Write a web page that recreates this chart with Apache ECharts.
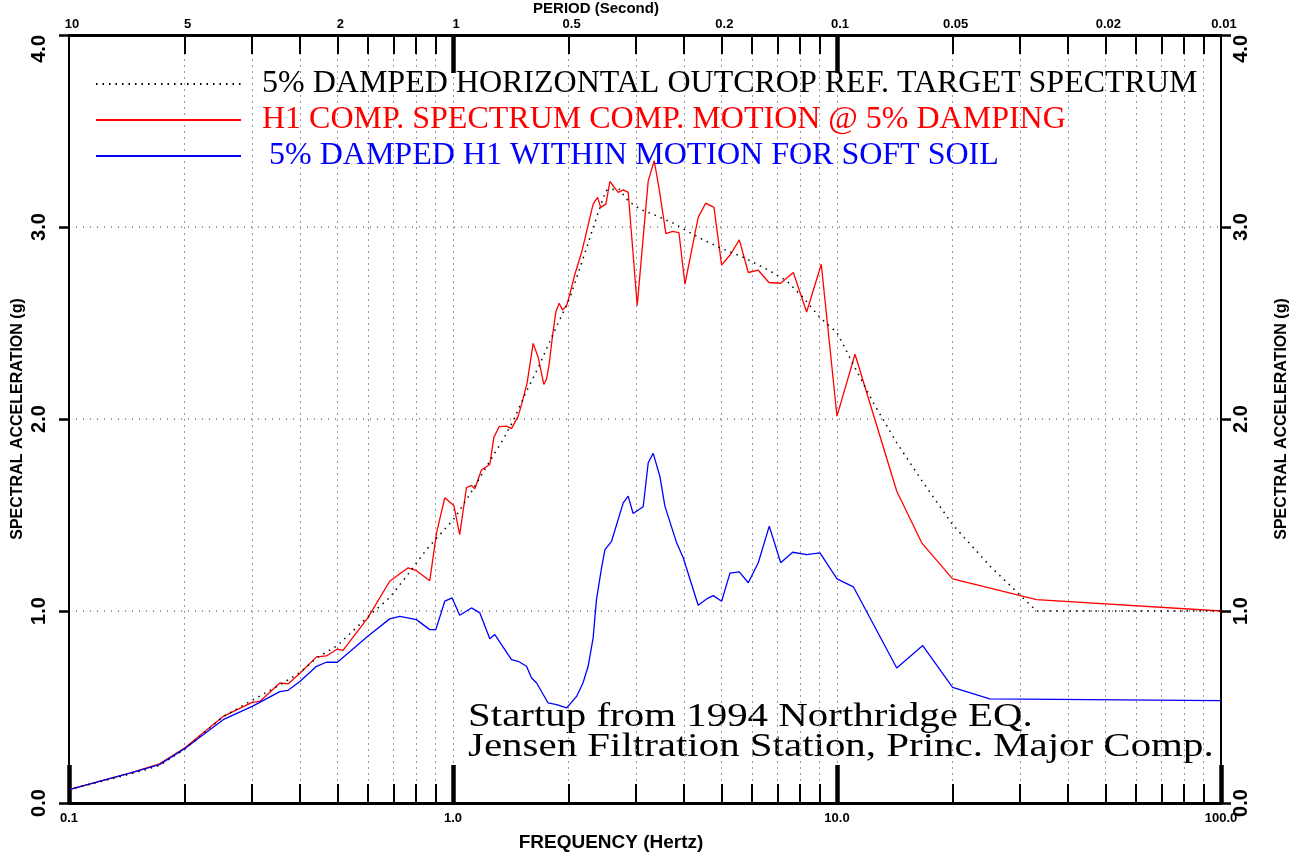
<!DOCTYPE html>
<html>
<head>
<meta charset="utf-8">
<title>Spectral acceleration</title>
<script src="https://cdn.jsdelivr.net/npm/echarts@6.0.0/dist/echarts.min.js"></script>
<style>
  html, body { margin: 0; padding: 0; background: #fff; }
  #chart { width: 1301px; height: 856px; }
</style>
</head>
<body>
<div id="chart"></div>
<script>
// target spectrum (black dotted)
const targetFreq = [0.1, 0.144, 0.172, 0.2, 0.252, 0.3, 0.354, 0.4, 0.441, 0.5, 0.6, 0.684, 0.756, 0.853, 1.011, 1.106, 1.247, 1.351, 1.434, 1.554, 1.667, 1.82, 2.015, 2.227, 2.32, 2.5, 2.7, 2.858, 3.067, 3.356, 3.745, 4.018, 4.395, 5.007, 5.646, 5.996, 6.69, 7.396, 8.17, 9.03, 10, 11.14, 12.43, 14.31, 16.78, 20, 25.05, 33.1, 100];
const targetSa = [0.07, 0.15, 0.195, 0.28, 0.45, 0.535, 0.615, 0.68, 0.755, 0.82, 0.97, 1.07, 1.18, 1.32, 1.485, 1.607, 1.78, 1.894, 1.989, 2.145, 2.267, 2.44, 2.63, 2.89, 3.0, 3.19, 3.2, 3.136, 3.093, 3.062, 3.02, 2.985, 2.942, 2.888, 2.846, 2.82, 2.771, 2.719, 2.632, 2.528, 2.45, 2.267, 2.085, 1.876, 1.668, 1.45, 1.233, 1.0, 1.0];

// H1 compatible motion (red)
const redFreq = [0.1, 0.144, 0.172, 0.2, 0.252, 0.3, 0.314, 0.354, 0.372, 0.4, 0.441, 0.468, 0.5, 0.517, 0.6, 0.684, 0.764, 0.803, 0.87, 0.906, 0.952, 1.005, 1.041, 1.084, 1.117, 1.14, 1.186, 1.247, 1.277, 1.318, 1.378, 1.42, 1.478, 1.509, 1.56, 1.617, 1.667, 1.724, 1.752, 1.78, 1.816, 1.853, 1.89, 1.929, 1.976, 2.015, 2.077, 2.162, 2.317, 2.38, 2.423, 2.501, 2.562, 2.693, 2.775, 2.859, 3.018, 3.224, 3.342, 3.443, 3.585, 3.731, 3.876, 4.018, 4.35, 4.548, 4.782, 5.007, 5.284, 5.567, 5.875, 6.237, 6.65, 7.135, 7.695, 8.337, 9.1, 10, 11.14, 14.31, 16.62, 20, 33.1, 100];
const redSa = [0.07, 0.156, 0.204, 0.286, 0.451, 0.524, 0.529, 0.625, 0.62, 0.677, 0.761, 0.766, 0.802, 0.795, 0.964, 1.155, 1.225, 1.21, 1.158, 1.407, 1.59, 1.55, 1.398, 1.642, 1.654, 1.637, 1.734, 1.763, 1.903, 1.96, 1.963, 1.95, 2.015, 2.076, 2.189, 2.394, 2.32, 2.18, 2.207, 2.285, 2.432, 2.559, 2.603, 2.568, 2.589, 2.65, 2.754, 2.867, 3.119, 3.154, 3.102, 3.119, 3.237, 3.18, 3.193, 3.18, 2.592, 3.24, 3.345, 3.197, 2.966, 2.977, 2.971, 2.702, 3.05, 3.124, 3.102, 2.801, 2.858, 2.933, 2.763, 2.775, 2.711, 2.707, 2.763, 2.557, 2.806, 2.015, 2.337, 1.624, 1.355, 1.167, 1.059, 1.0];

// H1 within motion, soft soil (blue)
const blueFreq = [0.1, 0.144, 0.172, 0.2, 0.252, 0.3, 0.354, 0.372, 0.4, 0.441, 0.468, 0.5, 0.6, 0.684, 0.727, 0.803, 0.87, 0.902, 0.952, 0.995, 1.041, 1.117, 1.175, 1.247, 1.285, 1.42, 1.478, 1.554, 1.602, 1.651, 1.769, 1.861, 1.976, 2.098, 2.18, 2.249, 2.317, 2.364, 2.437, 2.487, 2.588, 2.775, 2.858, 2.945, 3.128, 3.224, 3.321, 3.457, 3.563, 3.823, 3.977, 4.35, 4.575, 4.76, 5.007, 5.263, 5.567, 5.875, 6.237, 6.663, 7.135, 7.664, 8.337, 9.03, 10, 11.03, 14.31, 16.72, 20, 25, 100];
const blueSa = [0.07, 0.156, 0.2, 0.283, 0.434, 0.503, 0.58, 0.587, 0.634, 0.712, 0.733, 0.733, 0.868, 0.959, 0.972, 0.955, 0.903, 0.903, 1.051, 1.068, 0.978, 1.016, 0.99, 0.855, 0.877, 0.747, 0.738, 0.712, 0.651, 0.625, 0.521, 0.512, 0.495, 0.555, 0.625, 0.712, 0.86, 1.059, 1.225, 1.32, 1.363, 1.563, 1.598, 1.508, 1.543, 1.772, 1.821, 1.702, 1.546, 1.355, 1.277, 1.03, 1.063, 1.08, 1.051, 1.197, 1.204, 1.147, 1.251, 1.442, 1.251, 1.306, 1.294, 1.303, 1.167, 1.126, 0.703, 0.82, 0.602, 0.542, 0.533];

// axis ticks and labels
const decadeFreqs = [0.1, 1, 10, 100];
const minorFreqs = [0.2, 0.3, 0.4, 0.5, 0.6, 0.7, 0.8, 0.9, 2, 3, 4, 5, 6, 7, 8, 9, 20, 30, 40, 50, 60, 70, 80, 90];
const topMajorFreqs = [1, 10];
const periodTickFreqs = [0.1, 0.2, 0.5, 1, 2, 5, 10, 20, 50, 100];
const periodTickLabels = ['10', '5', '2', '1', '0.5', '0.2', '0.1', '0.05', '0.02', '0.01'];

const seriesNames = [
  '5% DAMPED HORIZONTAL OUTCROP REF. TARGET SPECTRUM',
  'H1 COMP. SPECTRUM COMP. MOTION @ 5% DAMPING',
  '5% DAMPED H1 WITHIN MOTION FOR SOFT SOIL'
];
const noteLines = ['Startup from 1994 Northridge EQ.', 'Jensen Filtration Station, Princ. Major Comp.'];

const zip = (xs, ys) => xs.map((x, i) => [x, ys[i]]);
const periodLabel = (v) => {
  const i = periodTickFreqs.findIndex((f) => Math.abs(f - v) / f < 1e-6);
  return i < 0 ? '' : periodTickLabels[i];
};

const SANS = '"Liberation Sans", Arial, sans-serif';
const SERIF = '"Liberation Serif", "Times New Roman", serif';
const gridDots = { color: '#999', width: 1, type: [2, 4] };

const chart = echarts.init(document.getElementById('chart'));

const logAxis = (extra) => Object.assign({
  type: 'log', logBase: 10, min: 0.1, max: 100,
  axisLine: { show: false, onZero: false },
  axisTick: { show: false },
  axisLabel: { show: false },
  splitLine: { show: false },
  minorTick: { show: false }
}, extra);

chart.setOption({
  animation: false,
  backgroundColor: '#fff',
  grid: { left: 69, right: 80, top: 35, bottom: 53, outerBoundsMode: 'none', containLabel: false },
  legend: {
    orient: 'vertical', left: 90, top: 61,
    itemWidth: 145, itemHeight: 14, itemGap: 0,
    itemStyle: { opacity: 0, borderWidth: 0 },
    textStyle: { fontFamily: SERIF, fontSize: 32, lineHeight: 36, padding: [0, 0, 0, 16] },
    data: [
      { name: seriesNames[0], textStyle: { color: '#000' } },
      { name: seriesNames[1], textStyle: { color: '#ff0000' } },
      { name: seriesNames[2], textStyle: { color: '#0000ff', padding: [0, 0, 0, 23] } }
    ]
  },
  xAxis: [
    // bottom: frame, minor ticks, labels, minor grid
    logAxis({
      position: 'bottom',
      axisLine: { show: true, onZero: false, lineStyle: { color: '#000', width: 3 } },
      axisTick: { show: true, inside: true, length: 19, customValues: minorFreqs, lineStyle: { color: '#000', width: 2 } },
      axisLabel: {
        show: true, customValues: decadeFreqs, margin: 9,
        color: '#000', fontFamily: SANS, fontWeight: 'bold', fontSize: 13,
        formatter: (v) => Number(v).toFixed(1)
      },
      splitLine: { show: true, lineStyle: gridDots }
    }),
    // bottom: thick decade ticks
    logAxis({
      position: 'bottom',
      axisTick: { show: true, inside: true, length: 38, customValues: decadeFreqs, lineStyle: { color: '#000', width: 4.5 } }
    }),
    // top: period scale
    logAxis({
      position: 'top',
      axisLine: { show: true, onZero: false, lineStyle: { color: '#000', width: 3 } },
      axisTick: { show: true, inside: true, length: 19, customValues: minorFreqs, lineStyle: { color: '#000', width: 2 } },
      axisLabel: {
        show: true, customValues: periodTickFreqs, margin: 4, padding: [0, 0, 0, 6],
        color: '#000', fontFamily: SANS, fontWeight: 'bold', fontSize: 13,
        formatter: periodLabel
      }
    }),
    // top: thick ticks at 1 s and 0.1 s, plus their grid lines
    logAxis({
      position: 'top',
      axisTick: { show: true, inside: true, length: 38, customValues: topMajorFreqs, lineStyle: { color: '#000', width: 4.5 } },
      splitLine: { show: true, lineStyle: gridDots }
    })
  ],
  yAxis: [
    {
      type: 'value', position: 'left', min: 0, max: 4, interval: 1,
      name: 'SPECTRAL ACCELERATION (g)', nameLocation: 'middle', nameGap: 43, nameMoveOverlap: false,
      nameTextStyle: { color: '#000', fontFamily: SANS, fontWeight: 'bold', fontSize: 16 },
      axisLine: { show: true, onZero: false, lineStyle: { color: '#000', width: 2 } },
      axisTick: { show: true, length: 10, lineStyle: { color: '#000', width: 2.5 } },
      axisLabel: {
        rotate: 90, margin: 20, color: '#000', fontFamily: SANS, fontWeight: 'bold', fontSize: 20,
        alignMaxLabel: 'right',
        formatter: (v) => v.toFixed(1)
      },
      splitLine: { show: true, lineStyle: { color: '#999', width: 2, type: [1, 6] } }
    },
    {
      type: 'value', position: 'right', min: 0, max: 4, interval: 1,
      name: 'SPECTRAL ACCELERATION (g)', nameLocation: 'middle', nameGap: 53, nameMoveOverlap: false,
      nameTextStyle: { color: '#000', fontFamily: SANS, fontWeight: 'bold', fontSize: 16 },
      axisLine: { show: true, onZero: false, lineStyle: { color: '#000', width: 2 } },
      axisTick: { show: true, length: 10, lineStyle: { color: '#000', width: 2.5 } },
      axisLabel: {
        rotate: 90, margin: 10, color: '#000', fontFamily: SANS, fontWeight: 'bold', fontSize: 20,
        alignMaxLabel: 'right',
        formatter: (v) => v.toFixed(1)
      },
      splitLine: { show: false }
    }
  ],
  series: [
    {
      name: seriesNames[1], type: 'line', xAxisIndex: 0, yAxisIndex: 0,
      symbol: 'none', data: zip(redFreq, redSa),
      lineStyle: { color: '#ff0000', width: 1.3 }, itemStyle: { color: '#ff0000' }
    },
    {
      name: seriesNames[2], type: 'line', xAxisIndex: 0, yAxisIndex: 0,
      symbol: 'none', data: zip(blueFreq, blueSa),
      lineStyle: { color: '#0000ff', width: 1.3 }, itemStyle: { color: '#0000ff' }
    },
    {
      name: seriesNames[0], type: 'line', xAxisIndex: 0, yAxisIndex: 0,
      symbol: 'none', data: zip(targetFreq, targetSa),
      lineStyle: { color: '#000', width: 1.5, type: [1.5, 5] }, itemStyle: { color: '#000' }
    }
  ],
  graphic: [
    {
      type: 'text', x: 596, y: 9,
      style: { text: 'PERIOD (Second)', font: 'bold 15px ' + SANS, fill: '#000', align: 'center', verticalAlign: 'middle' }
    },
    {
      type: 'text', x: 611, y: 843,
      style: { text: 'FREQUENCY (Hertz)', font: 'bold 19px ' + SANS, fill: '#000', align: 'center', verticalAlign: 'middle' }
    },
    {
      type: 'text', x: 468, y: 717, scaleX: 1.24,
      style: { text: noteLines[0], font: '33px ' + SERIF, fill: '#000', align: 'left', verticalAlign: 'middle' }
    },
    {
      type: 'text', x: 468, y: 747, scaleX: 1.24,
      style: { text: noteLines[1], font: '33px ' + SERIF, fill: '#000', align: 'left', verticalAlign: 'middle' }
    }
  ]
});
</script>
</body>
</html>
